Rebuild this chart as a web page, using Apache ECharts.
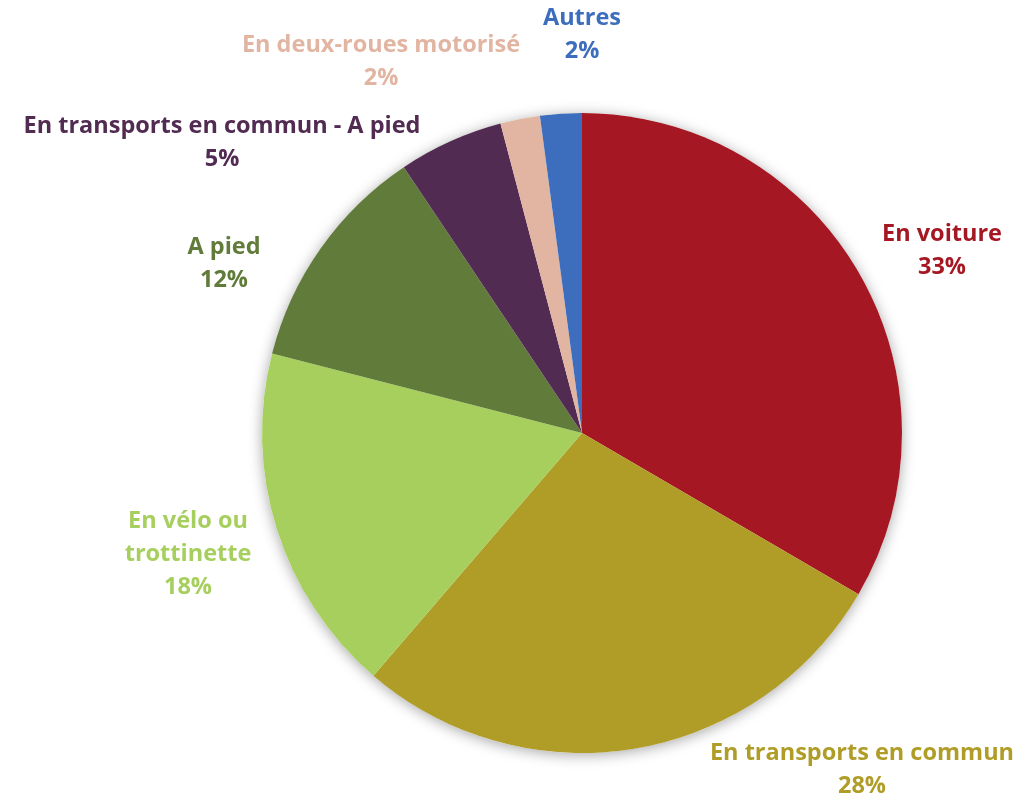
<!DOCTYPE html>
<html>
<head>
<meta charset="utf-8">
<script src="https://cdn.jsdelivr.net/npm/echarts@6/dist/echarts.min.js"></script>
<style>html,body{margin:0;padding:0;background:#fff}#c{width:1029px;height:798px}</style>
</head>
<body>
<div id="c"></div>
<script>
const categories = ['En voiture', 'En transports en commun', 'En vélo ou trottinette', 'A pied', 'En transports en commun - A pied', 'En deux-roues motorisé', 'Autres'];
const values = [33.4, 27.9, 17.7, 11.6, 5.3, 2.0, 2.1];
const colors = ['#A51722', '#AF9D27', '#A6CF5D', '#617B3A', '#522B53', '#E2B5A2', '#3D6EBD'];
// label anchor positions (text block centres), Excel-like placement
const labelPos = [[942, 251], [862, 770], [188, 554], [224, 264], [222, 143], [381, 62], [582, 35]];

const chart = echarts.init(document.getElementById('c'), null, {renderer: 'canvas'});
chart.setOption({
  animation: false,
  series: [
    {
      type: 'pie', silent: true, z: 1,
      center: [582, 433], radius: 320,
      label: {show: false}, labelLine: {show: false},
      itemStyle: {color: '#ffffff', shadowBlur: 14, shadowColor: 'rgba(0,0,0,0.35)', shadowOffsetY: 2},
      data: [{value: 1, name: ''}]
    },
    {
      type: 'pie', z: 2,
      center: [582, 433], radius: 320,
      startAngle: 90, clockwise: true,
      itemStyle: {borderWidth: 0},
      labelLine: {show: false},
      label: {
        show: true, position: 'outside',
        fontFamily: 'Open Sans', fontWeight: 'bold', fontSize: 23.5, lineHeight: 33,
        align: 'center', overflow: 'none', width: 500,
        formatter: p => p.name.replace(' ou ', ' ou\n') + '\n' + Math.round(p.percent) + '%'
      },
      labelLayout: p => {
        const pos = labelPos[p.dataIndex];
        return {x: pos[0], y: pos[1], align: 'center', verticalAlign: 'middle', hideOverlap: false};
      },
      data: categories.map((n, i) => ({
        name: n, value: values[i],
        itemStyle: {color: colors[i]},
        label: {color: colors[i]}
      }))
    }
  ]
});
</script>
</body>
</html>
